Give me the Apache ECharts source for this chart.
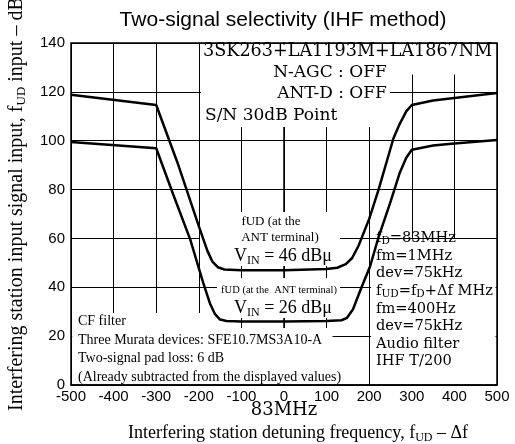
<!DOCTYPE html>
<html>
<head>
<meta charset="utf-8">
<script src="https://cdn.jsdelivr.net/npm/echarts@6/dist/echarts.min.js"></script>
<style>
  html, body { margin: 0; padding: 0; background: #fff; }
  #chart { width: 515px; height: 444px; }
</style>
</head>
<body>
<div id="chart"></div>
<script>
// detuning (kHz) and interfering input (dBu)
var upperDetune = [-500, -300, -250, -200, -180, -168, -155, -140, -100, 0, 100, 125, 145, 160, 175, 200, 222, 257, 272, 287, 300, 350, 400, 500];
var upperInput  = [118.8, 114.6, 91, 65, 55, 50.5, 48.2, 47.3, 47, 47, 47.5, 48, 49.5, 52, 57, 68, 80, 101, 107, 112, 114.6, 116.5, 117.5, 119.5];
var lowerDetune = [-500, -300, -260, -220, -190, -174, -162, -150, -135, -100, 0, 100, 135, 148, 162, 182, 202, 222, 250, 272, 287, 300, 350, 400, 500];
var lowerInput  = [99.5, 96.9, 78, 59.5, 42, 33.5, 29, 26.8, 26.2, 26, 26, 26.2, 26.5, 27.5, 31, 40, 48.5, 60.5, 75, 87, 93, 96.3, 98, 98.9, 100.3];

var topNotes = ['3SK263+LA1193M+LA1867NM', 'N-AGC : OFF', 'ANT-D : OFF', 'S/N 30dB Point'];
var filterNotes = ['CF filter', 'Three Murata devices: SFE10.7MS3A10-A', 'Two-signal pad loss: 6 dB', '(Already subtracted from the displayed values)'];
var signalNotes = ['{n|f}{s|D}{n|=83MHz}', '{n|fm=1MHz}', '{n|dev=75kHz}', '{n|f}{s|UD}{n|=f}{s|D}{n|+\u0394f MHz}', '{n|fm=400Hz}', '{n|dev=75kHz}', '{n|Audio filter}', '{n|IHF T/200}'];

function pairs(xs, ys) {
  return xs.map(function (x, i) { return [x, ys[i]]; });
}

var serif = 'DejaVu Serif';
var times = 'Liberation Serif';
var subRich = function (size, subSize, font) {
  return {
    n: { fontSize: size, fontFamily: font, lineHeight: size + 3, fill: '#000' },
    s: { fontSize: subSize, fontFamily: font, lineHeight: subSize - 2, verticalAlign: 'bottom', fill: '#000' }
  };
};

var myChart = echarts.init(document.getElementById('chart'));

var graphics = [
  // white patches where the notes hide the grid
  { type: 'rect', z: 1, shape: { x: 201, y: 44.5, width: 294.5, height: 30 }, style: { fill: '#fff' } },
  { type: 'rect', z: 1, shape: { x: 201, y: 74, width: 189, height: 53 }, style: { fill: '#fff' } },
  { type: 'rect', z: 1, shape: { x: 200, y: 212, width: 140, height: 54 }, style: { fill: '#fff' } },
  { type: 'rect', z: 1, shape: { x: 217, y: 278, width: 123, height: 40 }, style: { fill: '#fff' } },
  { type: 'rect', z: 1, shape: { x: 72.5, y: 313, width: 128, height: 71 }, style: { fill: '#fff' } },
  { type: 'rect', z: 1, shape: { x: 72.5, y: 328, width: 260, height: 56 }, style: { fill: '#fff' } },
  { type: 'rect', z: 1, shape: { x: 371, y: 239, width: 124.5, height: 145 }, style: { fill: '#fff' } },

  { type: 'text', z: 3, x: 283, y: 20, style: { text: 'Two-signal selectivity (IHF method)', font: '21px "Liberation Sans"', fill: '#000', align: 'center', verticalAlign: 'middle' } },

  { type: 'text', z: 3, x: 203, y: 51, style: { text: topNotes[0], font: '17.6px "' + serif + '"', fill: '#000', verticalAlign: 'middle' } },
  { type: 'text', z: 3, x: 330, y: 73, style: { text: topNotes[1], font: '17px "' + serif + '"', fill: '#000', align: 'center', verticalAlign: 'middle' } },
  { type: 'text', z: 3, x: 332, y: 94, style: { text: topNotes[2], font: '17px "' + serif + '"', fill: '#000', align: 'center', verticalAlign: 'middle' } },
  { type: 'text', z: 3, x: 205, y: 116, style: { text: topNotes[3], font: '17px "' + serif + '"', fill: '#000', verticalAlign: 'middle' } },

  { type: 'text', z: 3, x: 271, y: 222, style: { text: 'fUD (at the', font: '13px "' + times + '"', fill: '#000', align: 'center', verticalAlign: 'middle' } },
  { type: 'text', z: 3, x: 280, y: 238, style: { text: 'ANT terminal)', font: '13px "' + times + '"', fill: '#000', align: 'center', verticalAlign: 'middle' } },
  { type: 'text', z: 3, x: 283, y: 256, style: { text: '{n|V}{s|IN}{n| = 46 dB\u03bc}', rich: subRich(18, 12, times), align: 'center', verticalAlign: 'middle' } },
  { type: 'text', z: 3, x: 279, y: 290, style: { text: 'fUD (at the  ANT terminal)', font: '10.5px "' + times + '"', fill: '#000', align: 'center', verticalAlign: 'middle' } },
  { type: 'text', z: 3, x: 283, y: 308, style: { text: '{n|V}{s|IN}{n| = 26 dB\u03bc}', rich: subRich(18, 12, times), align: 'center', verticalAlign: 'middle' } },

  { type: 'text', z: 3, x: 376, y: 300, style: { text: signalNotes.join('\n'), rich: subRich(14.6, 10.5, serif), verticalAlign: 'middle' } },

  { type: 'text', z: 3, x: 78, y: 321, style: { text: filterNotes[0], font: '14px "' + times + '"', fill: '#000', verticalAlign: 'middle' } },
  { type: 'text', z: 3, x: 78, y: 340, style: { text: filterNotes[1], font: '14px "' + times + '"', fill: '#000', verticalAlign: 'middle' } },
  { type: 'text', z: 3, x: 78, y: 358, style: { text: filterNotes[2], font: '14px "' + times + '"', fill: '#000', verticalAlign: 'middle' } },
  { type: 'text', z: 3, x: 78, y: 377, style: { text: filterNotes[3], font: '14px "' + times + '"', fill: '#000', verticalAlign: 'middle' } },

  { type: 'text', z: 3, x: 284, y: 410, style: { text: '83MHz', font: '18px "' + serif + '"', fill: '#000', align: 'center', verticalAlign: 'middle' } },
  { type: 'text', z: 3, x: 298, y: 433, style: { text: '{n|Interfering station detuning frequency, f}{s|UD}{n| \u2013 \u0394f}', rich: subRich(18, 12, times), align: 'center', verticalAlign: 'middle' } },
  { type: 'text', z: 3, x: 17, y: 411, rotation: Math.PI / 2, style: { text: '{n|Interfering station input signal input, f}{s|UD}{n| input \u2013 dB\u03bc}', rich: subRich(20, 13, times), align: 'left', verticalAlign: 'middle' } }
];

option = {
  backgroundColor: '#fff',
  animation: false,
  grid: {
    left: 71, right: 18, top: 43, bottom: 59,
    show: true, borderColor: '#000', borderWidth: 1.5, backgroundColor: 'transparent'
  },
  xAxis: {
    type: 'value', min: -500, max: 500, interval: 100,
    axisLine: { show: true, onZero: false, lineStyle: { color: '#000', width: 1.5 } },
    axisTick: { show: false },
    axisLabel: { color: '#000', fontSize: 15, fontFamily: 'Liberation Sans', margin: 4 },
    splitLine: { show: true, lineStyle: { color: '#000', width: 1 } }
  },
  yAxis: {
    type: 'value', min: 0, max: 140, interval: 20,
    axisLine: { show: true, lineStyle: { color: '#000', width: 1.5 } },
    axisTick: { show: false },
    axisLabel: { color: '#000', fontSize: 15, fontFamily: 'Liberation Sans', margin: 6 },
    splitLine: { show: true, lineStyle: { color: '#000', width: 1 } }
  },
  graphic: graphics,
  series: [
    {
      name: 'VIN = 46 dBu', type: 'line', z: 2, showSymbol: false, smooth: false,
      lineStyle: { color: '#000', width: 2.5, join: 'round' },
      data: pairs(upperDetune, upperInput)
    },
    {
      name: 'VIN = 26 dBu', type: 'line', z: 2, showSymbol: false, smooth: false,
      lineStyle: { color: '#000', width: 2.5, join: 'round' },
      data: pairs(lowerDetune, lowerInput)
    }
  ]
};

if (option && typeof option === "object") {
  myChart.setOption(option, true);
}
</script>
</body>
</html>
